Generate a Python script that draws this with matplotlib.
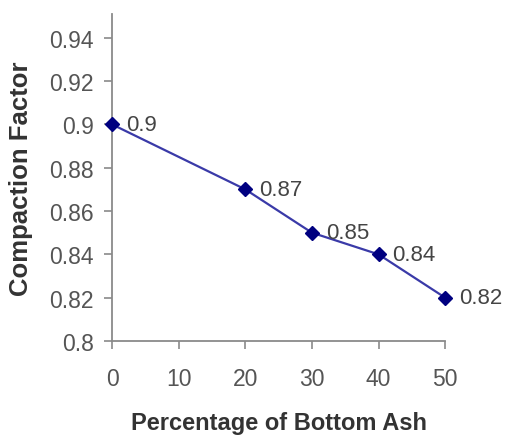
import matplotlib
matplotlib.use("Agg")
import matplotlib.pyplot as plt

pct_bottom_ash = [0, 20, 30, 40, 50]
compaction_factor = [0.90, 0.87, 0.85, 0.84, 0.82]
point_labels = ["0.9", "0.87", "0.85", "0.84", "0.82"]
x_ticks = [0, 10, 20, 30, 40, 50]
y_ticks = [0.80, 0.82, 0.84, 0.86, 0.88, 0.90, 0.92, 0.94]

plt.rcParams["font.family"] = ["Liberation Sans", "DejaVu Sans"]

fig = plt.figure(figsize=(5.07, 4.39), dpi=100)
ax = fig.add_axes([0.221, 0.221, 0.657, 0.745])

ax.plot(pct_bottom_ash, compaction_factor, color="#3a3aa8", lw=1.6,
        marker="D", markersize=7, markerfacecolor="#000080",
        markeredgecolor="#000080", zorder=3, clip_on=False)

for x, y, t in zip(pct_bottom_ash, compaction_factor, point_labels):
    ax.annotate(t, (x, y), xytext=(10, 0), textcoords="offset points",
                ha="left", va="center", fontsize=16, color="#444444")

ax.set_xlim(0, 50)
ax.set_ylim(0.8, 0.951)
ax.set_xticks(x_ticks)
ax.set_yticks(y_ticks)
ax.set_yticklabels([f"{v:g}" for v in y_ticks])

for s in ["top", "right"]:
    ax.spines[s].set_visible(False)
for s in ["left", "bottom"]:
    ax.spines[s].set_color("#8a8a8a")
    ax.spines[s].set_linewidth(1.3)

ax.tick_params(axis="both", colors="#8a8a8a", labelcolor="#555555",
               labelsize=16.5, length=6, width=1.2)
ax.tick_params(axis="x", pad=13)
ax.tick_params(axis="y", pad=7)

ax.set_xlabel("Percentage of Bottom Ash", fontsize=17, fontweight="bold",
              color="#333333", labelpad=15)
ax.set_ylabel("Compaction Factor", fontsize=18.5, fontweight="bold",
              color="#333333", labelpad=12)

fig.savefig("out.png", dpi=100, facecolor="white")
